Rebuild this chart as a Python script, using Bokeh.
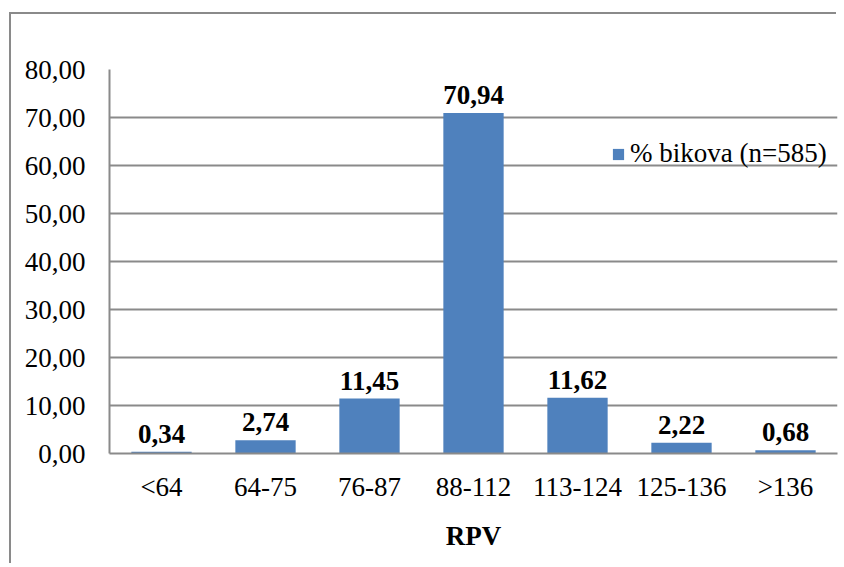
from bokeh.plotting import figure
from bokeh.models import (ColumnDataSource, FactorRange, CustomJSTickFormatter,
                          SingleIntervalTicker, Legend, LegendItem)
from bokeh.core.properties import value
from bokeh.embed import file_html
from bokeh.resources import INLINE

categories = ["<64", "64-75", "76-87", "88-112", "113-124", "125-136", ">136"]
percent = [0.34, 2.74, 11.45, 70.94, 11.62, 2.22, 0.68]
series_name = "% bikova (n=585)"
x_title = "RPV"

labels = [f"{v:.2f}".replace(".", ",") for v in percent]
src = ColumnDataSource(dict(cat=categories, val=percent, lab=labels))

FONT = "Liberation Serif"
FS = "27px"
GRAY = "#8a8a8a"
BLUE = "#4f81bd"

# canvas origin at page (11, 14); chart-area border drawn just outside it
W, H = 827, 551
p = figure(x_range=FactorRange(*categories, range_padding=0), y_range=(0, 80),
           width=W, height=H, output_backend="svg", toolbar_location=None,
           min_border_left=98, min_border_right=1, min_border_top=55,
           min_border_bottom=112)
p.outline_line_color = None
p.background_fill_color = "white"
p.border_fill_color = "white"
p.styles = {"margin-left": "11px", "margin-top": "14px",
            "box-shadow": "-2px -2px 0 0 #8a8a8a"}

r = p.vbar(x="cat", top="val", width=0.58, source=src, fill_color=BLUE,
           line_color=None)

p.text(x="cat", y="val", text="lab", source=src, text_font=value(FONT),
       text_font_size=FS, text_font_style="bold", text_align="center",
       text_baseline="alphabetic", y_offset=-18, text_color="black")

p.yaxis.ticker = SingleIntervalTicker(interval=10)
p.yaxis.formatter = CustomJSTickFormatter(code="return tick.toFixed(2).replace('.', ',');")
for ax in (p.xaxis[0], p.yaxis[0]):
    ax.axis_line_color = GRAY
    ax.axis_line_width = 2
    ax.major_tick_line_color = None
    ax.minor_tick_line_color = None
    ax.major_label_text_font = FONT
    ax.major_label_text_font_size = FS
    ax.major_label_text_color = "black"
p.yaxis.major_label_standoff = 18
p.xaxis.major_label_standoff = 12
p.xaxis.axis_label = x_title
p.xaxis.axis_label_text_font = FONT
p.xaxis.axis_label_text_font_size = FS
p.xaxis.axis_label_text_font_style = "bold"
p.xaxis.axis_label_text_color = "black"
p.xaxis.axis_label_standoff = 16

p.xgrid.grid_line_color = None
p.ygrid.grid_line_color = GRAY
p.ygrid.grid_line_width = 2

legend = Legend(items=[LegendItem(label=series_name, renderers=[r])],
                location=(502, 284), padding=0, margin=0, spacing=0,
                glyph_width=14, glyph_height=14, label_standoff=5,
                label_text_font=FONT, label_text_font_size=FS,
                label_text_color="black", border_line_color=None,
                background_fill_alpha=0)
p.add_layout(legend)

open("out.html", "w").write(file_html(p, INLINE))
